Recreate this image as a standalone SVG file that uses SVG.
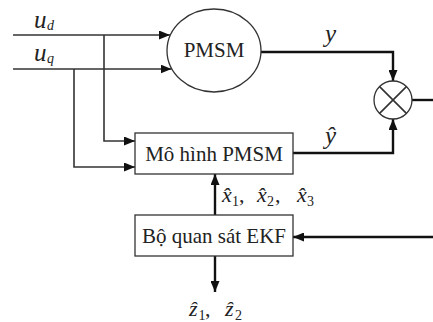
<svg xmlns="http://www.w3.org/2000/svg" width="433" height="322" viewBox="0 0 433 322">
<defs>
<marker id="arr" viewBox="0 0 11 9" refX="11" refY="4.5" markerWidth="11" markerHeight="9" markerUnits="userSpaceOnUse" orient="auto">
<path d="M0,0 L11,4.5 L0,9 z" fill="#111"/>
</marker>
</defs>
<style>
.thin{fill:none;stroke:#333;stroke-width:1.6}
.thick{fill:none;stroke:#111;stroke-width:2.4}
.shape{fill:#fff;stroke:#333;stroke-width:1.3}
text{font-family:'Liberation Serif','Times New Roman',serif;fill:#222}
.lbl{font-size:21px}
.var{font-size:22px;font-style:italic}
.big{font-size:25px}
.sub{font-size:14px}
.up{font-style:normal}
</style>
<rect width="433" height="322" fill="#fff"/>
<g id="connectors">
<path class="thin" d="M13,35 H170" marker-end="url(#arr)"/>
<path class="thin" d="M13,69 H171.5" marker-end="url(#arr)"/>
<path class="thin" d="M104,35 V141 H135" marker-end="url(#arr)"/>
<path class="thin" d="M74,69 V167 H135" marker-end="url(#arr)"/>
<path class="thick" d="M261,52 H393 V81" marker-end="url(#arr)"/>
<path class="thick" d="M293,153 H393 V119" marker-end="url(#arr)"/>
<path class="thick" d="M412,100 H433"/>
<path class="thick" d="M433,237 H293" marker-end="url(#arr)"/>
<path class="thick" d="M215,215 V174" marker-end="url(#arr)"/>
<path class="thick" d="M215,256 V292" marker-end="url(#arr)"/>
</g>
<g id="pmsm">
<ellipse class="shape" cx="214" cy="50.5" rx="47" ry="41.5"/>
<text class="lbl" x="214" y="57" text-anchor="middle" font-size="20.5">PMSM</text>
</g>
<g id="sum">
<circle class="shape" cx="393" cy="100" r="19"/>
<path class="thin" d="M379.6,86.6 L406.4,113.4 M406.4,86.6 L379.6,113.4"/>
</g>
<g id="model">
<rect class="shape" x="135" y="133" width="158" height="41"/>
<text class="lbl" x="214" y="161" text-anchor="middle">Mô hình PMSM</text>
</g>
<g id="ekf">
<rect class="shape" x="135" y="215" width="158" height="41"/>
<text class="lbl" x="214" y="243" text-anchor="middle">Bộ quan sát EKF</text>
</g>
<g id="labels">
<text class="var" y="28"><tspan class="big" x="34">u</tspan><tspan class="sub" x="47" dy="2">d</tspan></text>
<text class="var" y="61"><tspan class="big" x="34">u</tspan><tspan class="sub" x="47" dy="2">q</tspan></text>
<text class="var big" x="325" y="42">y</text>
<text class="var big" x="325" y="144">ŷ</text>
<text class="var" y="202"><tspan x="222">x̂</tspan><tspan class="sub up" x="232" dy="4">1</tspan><tspan class="up" x="239" dy="-4">,</tspan><tspan x="257">x̂</tspan><tspan class="sub up" x="267" dy="4">2</tspan><tspan class="up" x="275" dy="-4">,</tspan><tspan x="297">x̂</tspan><tspan class="sub up" x="307" dy="4">3</tspan></text>
<text class="var" y="316"><tspan x="189">ẑ</tspan><tspan class="sub up" x="198.5" dy="4">1</tspan><tspan class="up" x="205" dy="-4">,</tspan><tspan x="225">ẑ</tspan><tspan class="sub up" x="235" dy="4">2</tspan></text>
</g>
</svg>
